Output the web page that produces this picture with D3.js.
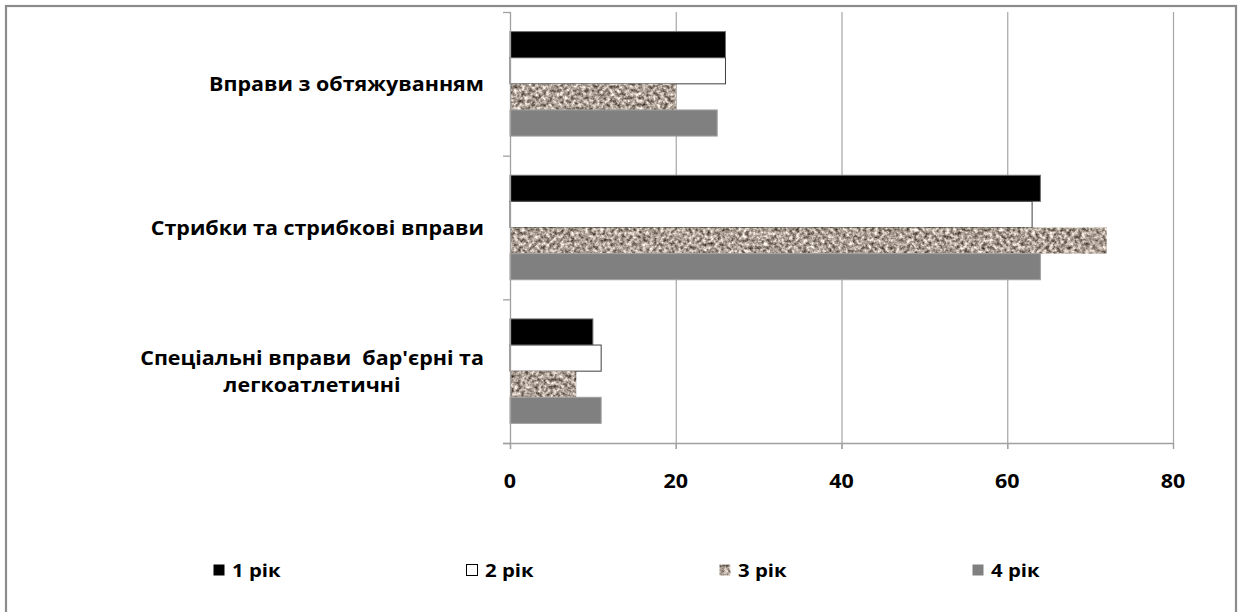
<!DOCTYPE html>
<html>
<head>
<meta charset="utf-8">
<script src="https://cdn.jsdelivr.net/npm/d3@7"></script>
<style>
  html, body { margin: 0; padding: 0; background: #fff; }
  svg { display: block; }
  text { font-family: "Open Sans", "Noto Sans", sans-serif; font-weight: 700; fill: #000; white-space: pre; }
</style>
</head>
<body>
<svg id="chart" width="1239" height="612"></svg>
<script>
// Exercise categories, listed top to bottom
const categories = [
  "Вправи з обтяжуванням",
  "Стрибки та стрибкові вправи",
  "Спеціальні вправи  бар'єрні та\nлегкоатлетичні"
];
const seriesNames = ["1 рік", "2 рік", "3 рік", "4 рік"];
const year1 = [26, 64, 10];
const year2 = [26, 63, 11];
const year3 = [20, 72, 8];
const year4 = [25, 64, 11];
const xTicks = [0, 20, 40, 60, 80];

const seriesValues = [year1, year2, year3, year4];

const W = 1239, H = 612;
const plot = { left: 510, right: 1173, top: 12, bottom: 443 };
const textStretch = 1.13;

const svg = d3.select("#chart");

// Granite-like texture for the third series
const defs = svg.append("defs");
const f = defs.append("filter").attr("id", "granite")
  .attr("x", 0).attr("y", 0).attr("width", 1).attr("height", 1)
  .attr("primitiveUnits", "userSpaceOnUse")
  .attr("color-interpolation-filters", "sRGB");
f.append("feTurbulence").attr("type", "fractalNoise")
  .attr("baseFrequency", 0.28).attr("numOctaves", 3).attr("seed", 7).attr("result", "noise");
f.append("feColorMatrix").attr("in", "noise").attr("type", "matrix")
  .attr("values",
    "1.25 0 0 0 0.05  " +
    "1.25 0 0 0 0.00  " +
    "1.25 0 0 0 -0.04  " +
    "0 0 0 0 1")
  .attr("result", "tinted");
f.append("feGaussianBlur").attr("in", "tinted").attr("stdDeviation", 0.4).attr("result", "soft");
f.append("feComposite").attr("in", "soft").attr("in2", "SourceGraphic").attr("operator", "in");

const fills = ["#000000", "#ffffff", "#a89c92", "#808080"];
const strokes = ["#707070", "#404040", "none", "#a0a0a0"];
const filters = [null, null, "url(#granite)", null];

// Outer frame
svg.append("rect")
  .attr("x", 6).attr("y", 6).attr("width", W - 9).attr("height", H + 10)
  .attr("fill", "none").attr("stroke", "#8c8c8c").attr("stroke-width", 2.2);

const x = d3.scaleLinear().domain([0, 80]).range([plot.left, plot.right]);
const y = d3.scaleBand().domain(categories).range([plot.top, plot.bottom]);
const groupSize = y.bandwidth() * 4 / 5.5;   // gap width 150%
const yInner = d3.scaleBand().domain(d3.range(seriesValues.length))
  .range([(y.bandwidth() - groupSize) / 2, (y.bandwidth() + groupSize) / 2]);

// Vertical gridlines
svg.append("g").selectAll("line").data(xTicks.slice(1)).join("line")
  .attr("x1", d => x(d) + 0.5).attr("x2", d => x(d) + 0.5)
  .attr("y1", plot.top).attr("y2", plot.bottom + 6)
  .attr("stroke", "#a6a6a6").attr("stroke-width", 1.2);

// Bars
seriesValues.forEach((vals, s) => {
  svg.append("g").selectAll("rect").data(vals).join("rect")
    .attr("x", x(0))
    .attr("y", (d, i) => y(categories[i]) + yInner(s))
    .attr("width", d => x(d) - x(0))
    .attr("height", yInner.bandwidth())
    .attr("fill", fills[s])
    .attr("stroke", strokes[s])
    .attr("stroke-width", 1)
    .attr("filter", filters[s]);
});

// Axes
const axisColor = "#a0a0a0";
const yAxisG = svg.append("g");
yAxisG.append("line")
  .attr("x1", plot.left + 0.5).attr("x2", plot.left + 0.5)
  .attr("y1", plot.top).attr("y2", plot.bottom + 6)
  .attr("stroke", axisColor).attr("stroke-width", 1.3);
const boundaries = categories.map(c => y(c)).concat([plot.bottom]);
yAxisG.selectAll("line.tick").data(boundaries).join("line").attr("class", "tick")
  .attr("x1", plot.left - 7).attr("x2", plot.left)
  .attr("y1", d => d + 0.5).attr("y2", d => d + 0.5)
  .attr("stroke", axisColor).attr("stroke-width", 1.3);

const xAxisG = svg.append("g");
xAxisG.append("line")
  .attr("x1", plot.left - 7).attr("x2", plot.right + 1)
  .attr("y1", plot.bottom + 0.5).attr("y2", plot.bottom + 0.5)
  .attr("stroke", axisColor).attr("stroke-width", 1.3);
xAxisG.selectAll("line.tick").data(xTicks).join("line").attr("class", "tick")
  .attr("x1", d => x(d) + 0.5).attr("x2", d => x(d) + 0.5)
  .attr("y1", plot.bottom).attr("y2", plot.bottom + 6)
  .attr("stroke", axisColor).attr("stroke-width", 1.3);
xAxisG.selectAll("g").data(xTicks).join("g")
  .attr("transform", d => `translate(${x(d)},481) scale(${textStretch},1)`)
  .append("text")
  .attr("text-anchor", "middle").attr("dominant-baseline", "central")
  .attr("font-size", 19)
  .text(d => d);

// Category labels, right-aligned block with centred lines
categories.forEach(c => {
  const lines = c.split("\n");
  const cy = y(c) + y.bandwidth() / 2;
  const lh = 27;
  const g = svg.append("g");
  const t = g.append("text")
    .attr("font-size", 19)
    .attr("text-anchor", "middle");
  lines.forEach((ln, k) => {
    t.append("tspan")
      .attr("x", 0)
      .attr("y", cy + (k - (lines.length - 1) / 2) * lh)
      .attr("dominant-baseline", "central")
      .text(ln);
  });
  const w = t.node().getBBox().width;
  g.attr("transform", `translate(484,0) scale(${textStretch},1) translate(${-w / 2},0)`);
});

// Legend
const legendX = [213, 466, 719, 972];
const lg = svg.append("g");
seriesNames.forEach((name, s) => {
  lg.append("rect")
    .attr("x", legendX[s] + 0.5).attr("y", 564.5)
    .attr("width", 11).attr("height", 11)
    .attr("fill", fills[s])
    .attr("stroke", s === 1 ? "#000" : "none")
    .attr("filter", filters[s]);
  lg.append("g")
    .attr("transform", `translate(${legendX[s] + 19},570) scale(${textStretch},1)`)
    .append("text")
    .attr("dominant-baseline", "central")
    .attr("font-size", 18)
    .text(name);
});
</script>
</body>
</html>
